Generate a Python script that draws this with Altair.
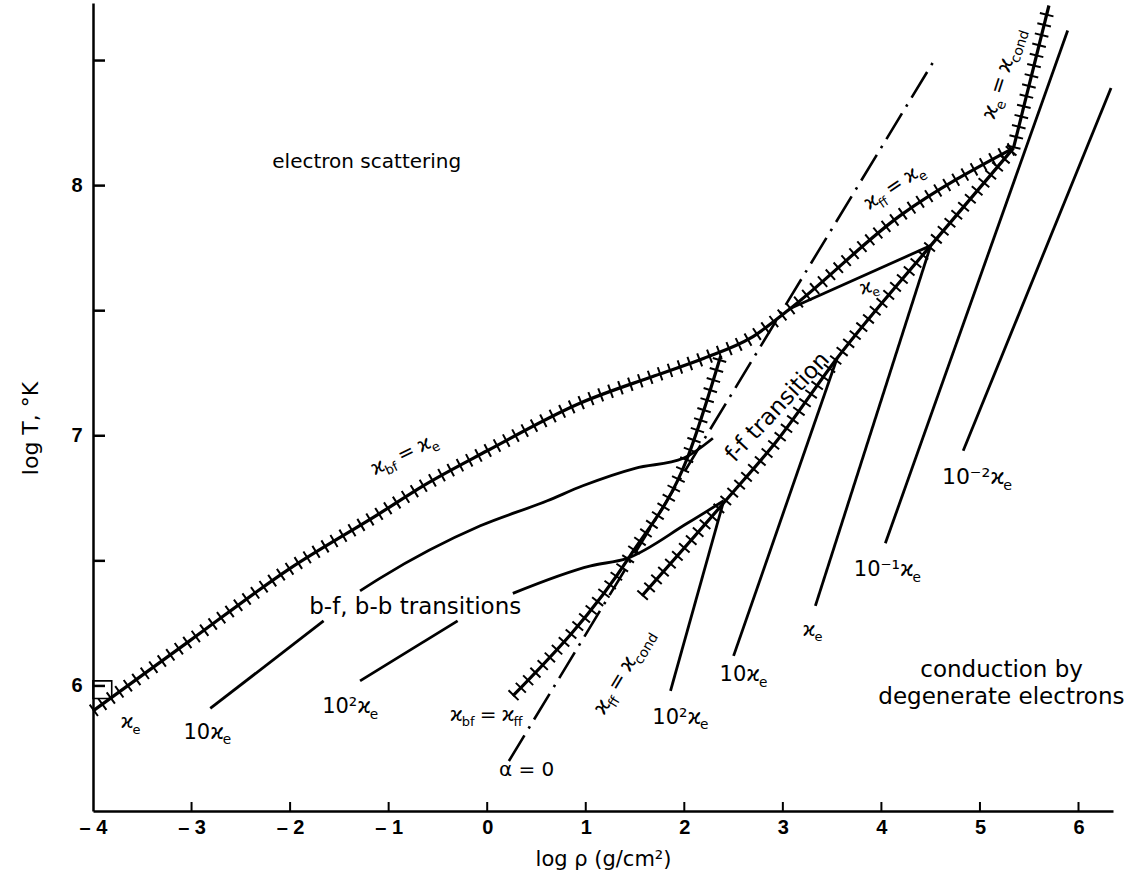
import math
import altair as alt
import pandas as pd

# ---------------- data (log rho, log T) ----------------
# hatched boundary: kappa_bf = kappa_e, continuing as kappa_ff = kappa_e
main_x = [-4.00, -3.02, -2.00, -1.09, -0.65, 0.00, 0.94, 1.70, 2.20, 2.67, 3.08, 4.19, 5.34]
main_y = [5.90, 6.18, 6.47, 6.69, 6.80, 6.94, 7.13, 7.24, 7.31, 7.39, 7.51, 7.88, 8.15]
# hatched boundary: kappa_e = kappa_cond
econd_x = [5.34, 5.70]
econd_y = [8.15, 8.72]
# hatched boundary: kappa_ff = kappa_cond
ffcond_x = [1.57, 2.44, 2.94, 3.55, 4.50, 5.34]
ffcond_y = [6.36, 6.75, 6.98, 7.31, 7.76, 8.15]
# hatched boundary: kappa_bf = kappa_ff
bfff_x = [0.26, 1.45, 2.03, 2.37]
bfff_y = [5.96, 6.52, 6.91, 7.32]
# dash-dot line alpha = 0
alpha_x = [0.22, 4.55]
alpha_y = [5.70, 8.51]
# plain kappa_e line between the two hatched branches
link_x = [3.08, 4.50]
link_y = [7.51, 7.76]
# b-f contours
bf10_lo_x = [-2.81, -1.66]
bf10_lo_y = [5.91, 6.26]
bf10_hi_x = [-1.29, -1.09, -0.07, 0.61, 0.97, 1.50, 1.99, 2.29]
bf10_hi_y = [6.38, 6.43, 6.64, 6.74, 6.80, 6.87, 6.91, 6.99]
bf100_lo_x = [-1.29, -0.30]
bf100_lo_y = [6.02, 6.26]
bf100_hi_x = [0.26, 1.05, 1.42, 2.03, 2.40]
bf100_hi_y = [6.37, 6.48, 6.51, 6.65, 6.74]
# conduction contours
c100_x = [1.86, 2.40]
c100_y = [5.98, 6.74]
c10_x = [2.50, 3.55]
c10_y = [6.12, 7.31]
c1_x = [3.33, 4.50]
c1_y = [6.32, 7.76]
c01_x = [4.04, 5.89]
c01_y = [6.57, 8.62]
c001_x = [4.83, 6.33]
c001_y = [6.94, 8.39]
# small corner box
box_x = [-4.00, -3.81]
box_y = [5.95, 6.02]
# axis ticks
x_ticks = [-3, -2, -1, 0, 1, 2, 3, 4, 5, 6]
x_labels = [-4, -3, -2, -1, 0, 1, 2, 3, 4, 5, 6]
y_ticks = [6.0, 6.5, 7.0, 7.5, 8.0, 8.5]
y_labels = [6, 7, 8]

# ---------------- layout ----------------
X0, X1 = -4.0, 6.35
Y0, Y1 = 5.5, 8.73
W, H = 1020, 808
KX = W / (X1 - X0)
KY = H / (Y1 - Y0)
FONT = "DejaVu Sans"
TFONT = "Liberation Sans"


def curves_df(curves):
    rows = []
    for name, xs, ys in curves:
        for i, (a, b) in enumerate(zip(xs, ys)):
            rows.append({"curve": name, "order": i, "x": a, "y": b})
    return pd.DataFrame(rows)


hatched = curves_df([
    ("main", main_x, main_y),
    ("econd", econd_x, econd_y),
    ("ffcond", ffcond_x, ffcond_y),
    ("bfff", bfff_x, bfff_y),
])
plain = curves_df([
    ("link", link_x, link_y),
    ("bf10lo", bf10_lo_x, bf10_lo_y),
    ("bf10hi", bf10_hi_x, bf10_hi_y),
    ("bf100lo", bf100_lo_x, bf100_lo_y),
    ("bf100hi", bf100_hi_x, bf100_hi_y),
    ("c100", c100_x, c100_y),
    ("c10", c10_x, c10_y),
    ("c1", c1_x, c1_y),
    ("c01", c01_x, c01_y),
    ("c001", c001_x, c001_y),
])
alpha = curves_df([("alpha", alpha_x, alpha_y)])
box = pd.DataFrame({"x": [box_x[0]], "x2": [box_x[1]], "y": [box_y[0]], "y2": [box_y[1]]})
xt = pd.DataFrame({"x": x_ticks, "y": [Y0] * len(x_ticks), "y2": [Y0 + 9 / KY] * len(x_ticks)})
yt = pd.DataFrame({"y": y_ticks, "x": [X0] * len(y_ticks), "x2": [X0 + 12 / KX] * len(y_ticks)})

# ---------------- text labels ----------------
WID = {" ": .318, "=": .838, "a": .613, "b": .635, "c": .55, "d": .635, "e": .615,
       "f": .352, "g": .635, "i": .278, "l": .278, "n": .634, "o": .612, "r": .411,
       "s": .521, "t": .392, "u": .634, "y": .592, "-": .361, ",": .318, "¹": .401,
       "²": .401, "⁻": .52, "ϰ": .60, "α": .659}
for d in "0123456789":
    WID[d] = .636


def tw(s, size):
    return size * sum(WID.get(c, .62) for c in s)


def eq(a, b):
    # kappa_a = kappa_b, as (text, is_subscript, gap-before in em)
    return [("ϰ", 0, 0), (a, 1, 0), ("=", 0, 0.25), ("ϰ", 0, 0.25), (b, 1, 0)]


def ke(prefix=""):
    return [(prefix + "ϰ", 0, 0), ("e", 1, 0)]


labels = [
    ([("electron scattering", 0, 0)], -1.22, 8.10, 0, 20),
    ([("b-f, b-b transitions", 0, 0)], -0.73, 6.32, 0, 23),
    ([("f-f transition", 0, 0)], 2.94, 7.12, 313, 23),
    (eq("bf", "e"), -0.85, 6.93, 334, 20),
    (eq("ff", "e"), 4.12, 8.00, 326, 20),
    (eq("e", "cond"), 5.22, 8.45, 288, 21),
    (ke(), 3.87, 7.60, 345, 19),
    (eq("ff", "cond"), 1.37, 6.06, 301, 21),
    (eq("bf", "ff"), -0.01, 5.89, 0, 20),
    ([("α = 0", 0, 0)], 0.40, 5.67, 0, 20),
    (ke(), -3.62, 5.86, 0, 20),
    (ke("10"), -2.84, 5.82, 0, 21),
    (ke("10²"), -1.39, 5.92, 0, 21),
    (ke("10²"), 1.96, 5.88, 0, 21),
    (ke("10"), 2.60, 6.05, 0, 21),
    (ke(), 3.30, 6.23, 0, 20),
    (ke("10⁻¹"), 4.06, 6.47, 0, 21),
    (ke("10⁻²"), 4.97, 6.84, 0, 22),
    ([("conduction by", 0, 0)], 5.22, 6.07, 0, 23),
    ([("degenerate electrons", 0, 0)], 5.22, 5.96, 0, 23),
]

trows = []
for parts, cx, cy, ang, size in labels:
    sub = round(size * 0.65, 1)
    ws = [tw(t, sub if s else size) + g * size for t, s, g in parts]
    a = math.radians(ang)
    ca, sa = math.cos(a), math.sin(a)
    along = -sum(ws) / 2
    for (t, s, g), w in zip(parts, ws):
        along += g * size
        perp = 0.36 * size + (0.28 * size if s else 0)
        px = along * ca - perp * sa
        py = along * sa + perp * ca
        trows.append({"text": t, "x": cx + px / KX, "y": cy - py / KY,
                      "angle": ang, "size": sub if s else size})
        along += w - g * size
tdf = pd.DataFrame(trows)

# ---------------- chart ----------------
xs = alt.Scale(domain=[X0, X1], nice=False, zero=False)
ys = alt.Scale(domain=[Y0, Y1], nice=False, zero=False)
xaxis = alt.Axis(values=x_labels, ticks=False, tickSize=0, grid=False, domainWidth=2.5,
                 domainColor="black", labelFont=TFONT, labelFontSize=20,
                 labelFontWeight="bold", labelColor="black", labelPadding=6,
                 labelFlush=False, labelOverlap=False,
                 labelExpr="datum.value < 0 ? '– ' + (-datum.value) : '' + datum.value",
                 title="log ρ (g/cm²)", titleFont=FONT, titleFontSize=21,
                 titleFontWeight="normal", titleColor="black", titlePadding=11)
yaxis = alt.Axis(values=y_labels, ticks=False, tickSize=0, grid=False, domainWidth=2.5,
                 domainColor="black", labelFont=TFONT, labelFontSize=20,
                 labelFontWeight="bold", labelColor="black", labelPadding=11,
                 labelFlush=False, labelOverlap=False,
                 title="log T, °K", titleFont=FONT, titleFontSize=22,
                 titleFontWeight="normal", titleColor="black", titlePadding=28,
                 titleY=425)

X = alt.X("x:Q", scale=xs, axis=xaxis)
Y = alt.Y("y:Q", scale=ys, axis=yaxis)

boxl = alt.Chart(box).mark_rect(fill=None, stroke="black", strokeWidth=1.6).encode(
    x=X, x2="x2:Q", y=Y, y2="y2:Q")
xtick = alt.Chart(xt).mark_rule(color="black", strokeWidth=2).encode(x=X, y=Y, y2="y2:Q")
ytick = alt.Chart(yt).mark_rule(color="black", strokeWidth=2.5).encode(y=Y, x=X, x2="x2:Q")

plain_l = alt.Chart(plain).mark_line(color="black", strokeWidth=2.8,
                                     interpolate="monotone").encode(
    x=X, y=Y, detail="curve:N", order="order:Q")
hatch_base = alt.Chart(hatched).mark_line(color="black", strokeWidth=3.2,
                                          interpolate="monotone").encode(
    x=X, y=Y, detail="curve:N", order="order:Q")
hatch_marks = alt.Chart(hatched).mark_line(color="black", strokeWidth=14, strokeCap="butt",
                                           strokeDash=[2, 8.5],
                                           interpolate="monotone").encode(
    x=X, y=Y, detail="curve:N", order="order:Q")
alpha_l = alt.Chart(alpha).mark_line(color="black", strokeWidth=2.6,
                                     strokeDash=[30, 8, 2.5, 8]).encode(
    x=X, y=Y, order="order:Q")
text_l = alt.Chart(tdf).mark_text(align="left", baseline="alphabetic", font=FONT,
                                  color="black").encode(
    x=X, y=Y, text="text:N",
    angle=alt.Angle("angle:Q", scale=None),
    size=alt.Size("size:Q", scale=None, legend=None))

chart = alt.layer(boxl, xtick, ytick, plain_l, alpha_l, hatch_marks, hatch_base, text_l).properties(
    width=W, height=H,
    padding={"left": 93, "top": 3, "right": 20, "bottom": 67},
    autosize=alt.AutoSizeParams(type="none"),
    background="white",
).configure_view(stroke=None)

chart.save("out.html", embed_options={"renderer": "svg", "actions": False})
